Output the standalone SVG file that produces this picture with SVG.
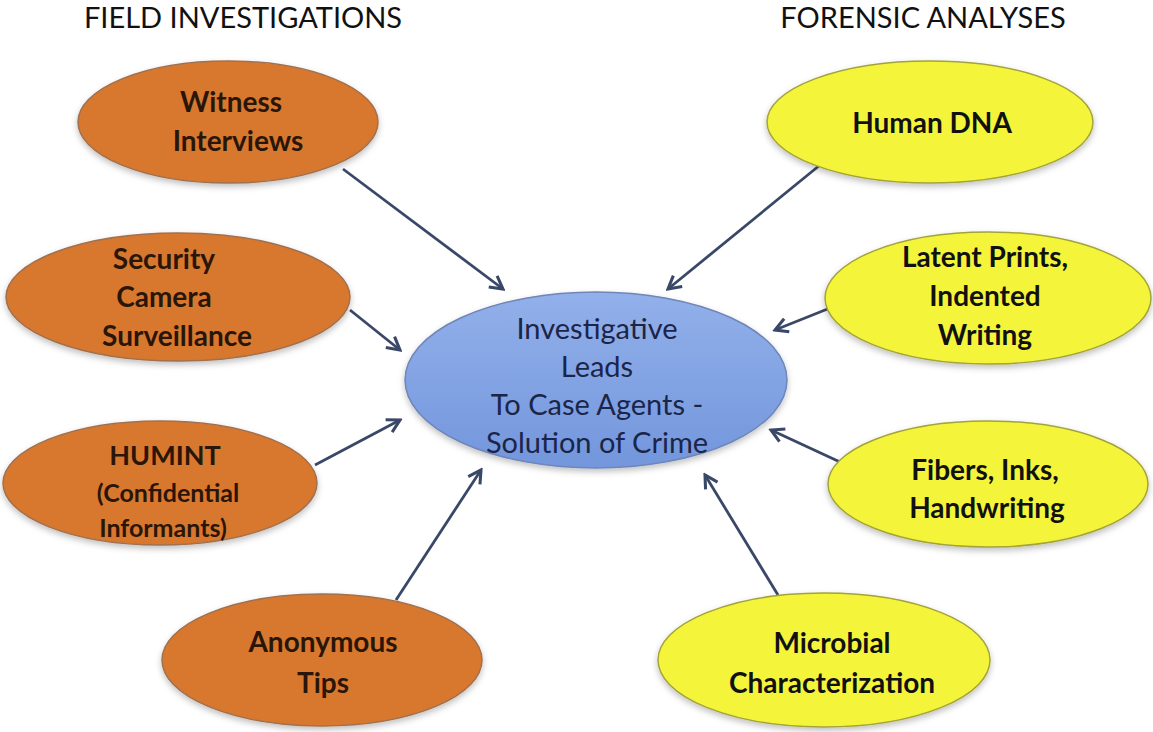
<svg xmlns="http://www.w3.org/2000/svg" width="1153" height="732" viewBox="0 0 1153 732">
<style>
.hdr{font-family:Lato,"Open Sans","Liberation Sans",sans-serif;font-size:29px;fill:#111;text-anchor:middle}
.lbl{font-family:Lato,"Open Sans","Liberation Sans",sans-serif;font-size:28px;font-weight:bold;text-anchor:middle}
.or{fill:#d8782e;stroke:#a0704f;stroke-width:1.5}
.ye{fill:#f4f53a;stroke:#a3a33a;stroke-width:1.5}
.ot{fill:#2a1608}
.yt{fill:#111}
.ct{font-family:Lato,"Open Sans","Liberation Sans",sans-serif;font-size:29px;fill:#1b2548;text-anchor:middle}
.con line{stroke:#3a4868;stroke-width:2.8;marker-end:url(#ah)}
</style>
<defs>
<marker id="ah" viewBox="0 0 12 12" refX="10" refY="6" markerWidth="6" markerHeight="6" orient="auto" markerUnits="strokeWidth">
<path d="M1,1 L10,6 L1,11" fill="none" stroke="#3a4868" stroke-width="2.2"/>
</marker>
<linearGradient id="bg" x1="0" y1="0" x2="0" y2="1">
<stop offset="0" stop-color="#92b0ea"/>
<stop offset="1" stop-color="#7396dc"/>
</linearGradient>
<filter id="sh" x="-10%" y="-10%" width="120%" height="130%">
<feDropShadow dx="0" dy="3" stdDeviation="3" flood-color="#000" flood-opacity="0.25"/>
</filter>
</defs>
<rect width="1153" height="732" fill="#fff"/>
<text class="hdr" x="243" y="28">FIELD INVESTIGATIONS</text>
<text class="hdr" x="923" y="28">FORENSIC ANALYSES</text>

<g class="con" id="connectors">
<line x1="343" y1="169" x2="503" y2="289"/>
<line x1="350" y1="310" x2="400" y2="350"/>
<line x1="315" y1="465" x2="400" y2="420"/>
<line x1="396" y1="600" x2="481" y2="470"/>
<line x1="820" y1="165" x2="668" y2="289"/>
<line x1="830" y1="308" x2="775" y2="330"/>
<line x1="840" y1="462" x2="771" y2="430"/>
<line x1="778" y1="595" x2="705" y2="475"/>
</g>

<g id="center">
<ellipse cx="596" cy="380" rx="191" ry="88" fill="url(#bg)" stroke="#6f85b8" stroke-width="1.5" filter="url(#sh)"/>
<text class="ct" x="597" y="339">Investigative</text>
<text class="ct" x="597" y="377">Leads</text>
<text class="ct" x="597" y="415">To Case Agents -</text>
<text class="ct" x="597" y="453">Solution of Crime</text>
</g>

<g id="witness">
<ellipse class="or" cx="228" cy="122" rx="150" ry="61" filter="url(#sh)"/>
<text class="lbl ot" x="231" y="112">Witness</text>
<text class="lbl ot" x="238" y="151">Interviews</text>
</g>
<g id="security">
<ellipse class="or" cx="178" cy="297" rx="172" ry="64" filter="url(#sh)"/>
<text class="lbl ot" x="164" y="269">Security</text>
<text class="lbl ot" x="164" y="307">Camera</text>
<text class="lbl ot" x="177" y="346">Surveillance</text>
</g>
<g id="humint">
<ellipse class="or" cx="160" cy="483" rx="157" ry="62" filter="url(#sh)"/>
<text class="lbl ot" x="165" y="465" style="font-size:27px">HUMINT</text>
<text class="lbl ot" x="168" y="502" style="font-size:25px">(Confidential</text>
<text class="lbl ot" x="163" y="537" style="font-size:25px">Informants)</text>
</g>
<g id="anonymous">
<ellipse class="or" cx="322" cy="660" rx="160" ry="66" filter="url(#sh)"/>
<text class="lbl ot" x="323" y="652">Anonymous</text>
<text class="lbl ot" x="323" y="693">Tips</text>
</g>

<g id="dna">
<ellipse class="ye" cx="930" cy="122" rx="163" ry="61" filter="url(#sh)"/>
<text class="lbl yt" x="932" y="133">Human DNA</text>
</g>
<g id="latent">
<ellipse class="ye" cx="988" cy="298" rx="163" ry="66" filter="url(#sh)"/>
<text class="lbl yt" x="985" y="267">Latent Prints,</text>
<text class="lbl yt" x="985" y="306">Indented</text>
<text class="lbl yt" x="985" y="345">Writing</text>
</g>
<g id="fibers">
<ellipse class="ye" cx="988" cy="484" rx="160" ry="63" filter="url(#sh)"/>
<text class="lbl yt" x="985" y="480">Fibers, Inks,</text>
<text class="lbl yt" x="987" y="518">Handwriting</text>
</g>
<g id="microbial">
<ellipse class="ye" cx="824" cy="660" rx="166" ry="67" filter="url(#sh)"/>
<text class="lbl yt" x="832" y="653">Microbial</text>
<text class="lbl yt" x="832" y="693">Characterization</text>
</g>
</svg>
